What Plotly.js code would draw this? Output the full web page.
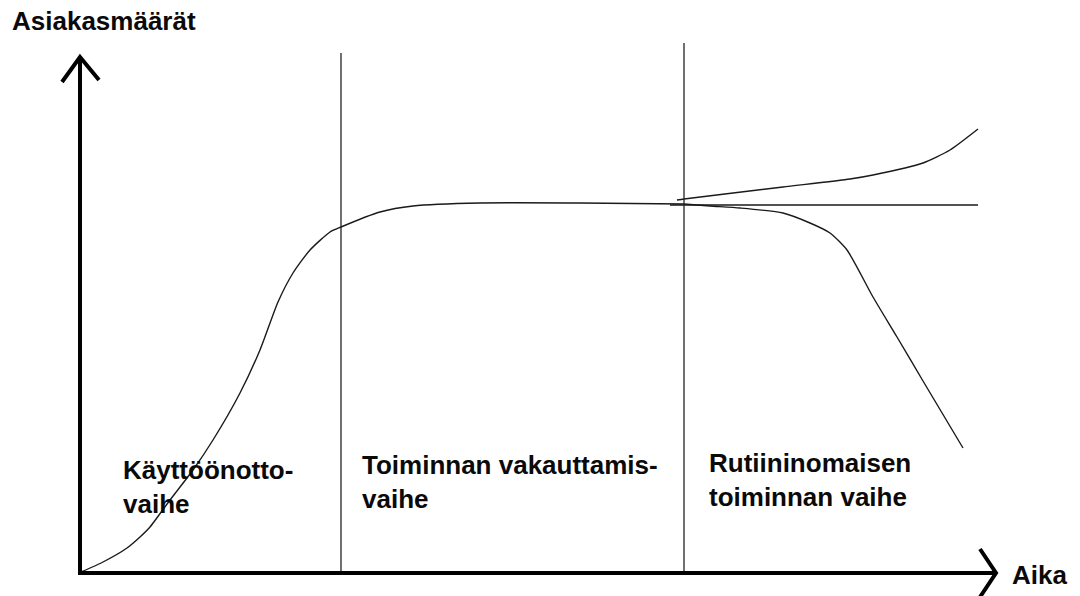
<!DOCTYPE html>
<html>
<head>
<meta charset="utf-8">
<script src="https://cdn.plot.ly/plotly-3.0.1.min.js"></script>
<style>html,body{margin:0;padding:0;background:#fff;}#chart{width:1080px;height:596px;}</style>
</head>
<body>
<div id="chart"></div>
<script>
// Conceptual chart: time (Aika) vs customer volume (Asiakasmäärät), units
const adoptionT = [1, 23, 47, 60, 70, 90, 113, 133, 160, 180, 198, 213, 230, 250, 261, 300, 333, 400, 500, 604];
const adoptionN = [1, 11, 25, 36, 46, 73, 103, 133, 180, 223, 271, 300, 323, 341, 346, 361, 367, 370, 370, 369];

const growthT = [597, 604, 703, 770, 793, 843, 870, 898];
const growthN = [373, 374, 386, 394, 398, 410, 423, 444];

const steadyT = [590, 604, 898];
const steadyN = [368, 368, 368];

const declineT = [604, 630, 660, 703, 730, 750, 767, 793, 817, 843, 883];
const declineN = [369, 367, 365, 360, 350, 340, 323, 276, 236, 192, 125];

const phaseBoundaryT = [261, 604];
const phaseBoundaryTop = [520, 530];

const phaseLabels = ["Käyttöönotto-<br>vaihe", "Toiminnan vakauttamis-<br>vaihe", "Rutiininomaisen<br>toiminnan vaihe"];
const yAxisLabel = "Asiakasmäärät";
const xAxisLabel = "Aika";

// pixel helpers (origin of the drawn axes at pixel 80, 573)
const X0 = 80, Y0 = 573;
const toX = p => p - X0;
const toY = p => Y0 - p;

const curveLine = {color: '#1a1a1a', width: 1.4, shape: 'spline', smoothing: 0.6};
const traces = [];
traces.push({x: adoptionT, y: adoptionN, mode: 'lines', line: curveLine, hoverinfo: 'skip'});
traces.push({x: growthT, y: growthN, mode: 'lines', line: curveLine, hoverinfo: 'skip'});
traces.push({x: steadyT, y: steadyN, mode: 'lines', line: {color: '#1a1a1a', width: 1.4}, hoverinfo: 'skip'});
traces.push({x: declineT, y: declineN, mode: 'lines', line: curveLine, hoverinfo: 'skip'});
phaseBoundaryT.forEach((t, i) => {
  traces.push({x: [t, t], y: [0, phaseBoundaryTop[i]], mode: 'lines', line: {color: '#222', width: 1.3}, hoverinfo: 'skip'});
});

const axisStyle = {color: '#000', width: 4};
const shapes = [
  // axes
  {type: 'line', xref: 'x', yref: 'y', x0: -2, y0: 0, x1: 916, y1: 0, line: axisStyle},
  {type: 'line', xref: 'x', yref: 'y', x0: 0, y0: -2, x1: 0, y1: 515, line: axisStyle},
  // arrow heads (open chevrons)
  {type: 'path', xref: 'x', yref: 'y', path: 'M -18 491 L 0 516 L 19 493', line: axisStyle},
  {type: 'path', xref: 'x', yref: 'y', path: 'M 900 24 L 916 0 L 900 -24', line: axisStyle}
];

const fnt = {family: '"Liberation Sans", Arial, sans-serif', size: 26, color: '#0a0a0a'};
const ann = (text, px, py, yanchor) => ({
  text: text, xref: 'x', yref: 'y', x: toX(px), y: toY(py), xanchor: 'left', yanchor: yanchor || 'top',
  align: 'left', showarrow: false, font: fnt
});
const bold = s => s.split('<br>').map(p => '<b>' + p + '</b>').join('<br>');
const annotations = [
  ann(bold(yAxisLabel), 10, 4),
  ann(bold(xAxisLabel), 1010, 558),
  ann(bold(phaseLabels[0]), 121, 453),
  ann(bold(phaseLabels[1]), 360, 448),
  ann(bold(phaseLabels[2]), 707, 446)
];

const layout = {
  width: 1080, height: 596,
  margin: {l: 0, r: 0, t: 0, b: 0, pad: 0},
  paper_bgcolor: '#fff', plot_bgcolor: '#fff',
  showlegend: false,
  xaxis: {range: [-X0, 1080 - X0], visible: false, fixedrange: true},
  yaxis: {range: [Y0 - 596, Y0], visible: false, fixedrange: true},
  shapes: shapes,
  annotations: annotations
};

Plotly.newPlot('chart', traces, layout, {staticPlot: true, displayModeBar: false});
</script>
</body>
</html>
